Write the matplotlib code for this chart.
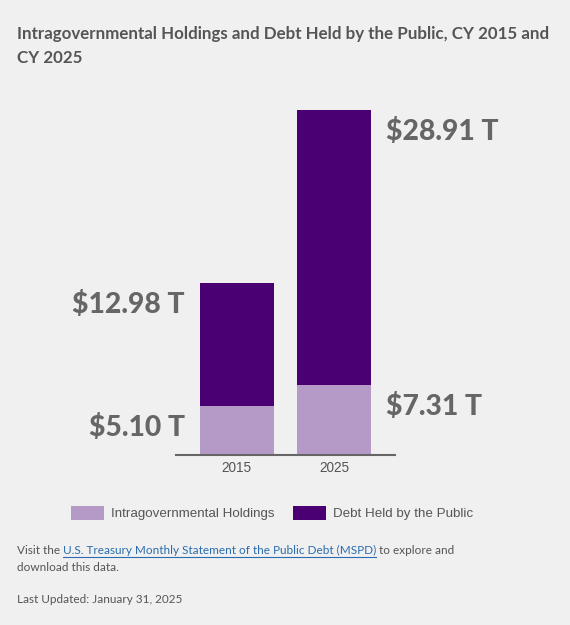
import matplotlib
matplotlib.use("Agg")
import matplotlib.pyplot as plt
from matplotlib.patches import Patch
from matplotlib.lines import Line2D

years = ["2015", "2025"]
intragov = [5.10, 7.31]
public_debt = [12.98, 28.91]
series_names = ["Intragovernmental Holdings", "Debt Held by the Public"]
title_lines = ["Intragovernmental Holdings and Debt Held by the Public, CY 2015 and", "CY 2025"]

LIGHT = "#b59ac8"
DARK = "#4a0072"
BG = "#f0f0f0"
W, H = 570, 625

fig = plt.figure(figsize=(W / 100, H / 100), dpi=100, facecolor=BG)

def fx(px):
    return px / W

def fy(py):
    return 1 - py / H

ax = fig.add_axes([fx(176), fy(455), (395 - 176) / W, 355 / H])
ax.set_facecolor(BG)

x = list(range(len(years)))
bw = 0.757
ax.bar(x, intragov, width=bw, color=LIGHT, linewidth=0)
ax.bar(x, public_debt, bottom=intragov, width=bw, color=DARK, linewidth=0)
ax.set_xlim(-0.626, 1.625)
ax.set_ylim(0, 37.31)
for s in ["top", "left", "right"]:
    ax.spines[s].set_visible(False)
ax.spines["bottom"].set_color("#666666")
ax.spines["bottom"].set_linewidth(1.5)
ax.set_yticks([])
ax.set_xticks(x)
ax.set_xticklabels(years, fontfamily="Liberation Sans", fontsize=9.8, color="#555555")
ax.tick_params(axis="x", length=0, pad=4)

lab_kw = dict(textcoords="offset points", fontfamily="Lato", fontweight="black",
              fontsize=20.3, color="#666666", va="baseline", annotation_clip=False)
off_y = -21.3
for i in range(len(years)):
    tot = intragov[i] + public_debt[i]
    if i == 0:
        xe, dx, ha = x[i] - bw / 2, -11.0, "right"
    else:
        xe, dx, ha = x[i] + bw / 2, 11.0, "left"
    ax.annotate(f"${public_debt[i]:.2f} T", xy=(xe, tot), xytext=(dx, off_y), ha=ha, **lab_kw)
    ax.annotate(f"${intragov[i]:.2f} T", xy=(xe, intragov[i]), xytext=(dx, off_y), ha=ha, **lab_kw)

# Title
fig.text(fx(17), fy(39), title_lines[0], fontfamily="Lato", fontweight="bold", fontsize=12.2,
         color="#555555", va="baseline", ha="left")
fig.text(fx(17), fy(63), title_lines[1], fontfamily="Lato", fontweight="bold", fontsize=12.2,
         color="#555555", va="baseline", ha="left")

# Legend
handles = [Patch(facecolor=LIGHT, edgecolor="none"), Patch(facecolor=DARK, edgecolor="none")]
fig.legend(handles, series_names, loc="center left", bbox_to_anchor=(fx(71), fy(513)),
           bbox_transform=fig.transFigure, ncol=2, frameon=False, borderpad=0, borderaxespad=0,
           handlelength=2.45, handleheight=1.2, handletextpad=0.52, columnspacing=1.4,
           prop={"family": "Liberation Sans", "size": 9.65}, labelcolor="#555555")

# Footer
foot_kw = dict(fontfamily="Lato", fontsize=8.5, va="baseline", ha="left")
t1 = fig.text(fx(17), fy(554), "Visit the", color="#555555", **foot_kw)
t2 = fig.text(0, 0, "U.S. Treasury Monthly Statement of the Public Debt (MSPD)", color="#2a6cae", **foot_kw)
t3 = fig.text(0, 0, " to explore and", color="#555555", **foot_kw)
fig.text(fx(17), fy(571), "download this data.", color="#555555", **foot_kw)
fig.text(fx(17), fy(603), "Last Updated: January 31, 2025", color="#555555", **foot_kw)

fig.canvas.draw()
r = fig.canvas.get_renderer()
bb1 = t1.get_window_extent(r)
t2.set_position(((bb1.x1 + 3) / W, fy(554)))
fig.canvas.draw()
bb2 = t2.get_window_extent(r)
t3.set_position((bb2.x1 / W, fy(554)))
uy = fy(557)
fig.add_artist(Line2D([bb2.x0 / W, bb2.x1 / W], [uy, uy], color="#2a6cae", linewidth=0.8,
                      transform=fig.transFigure))

fig.savefig("out.png", dpi=100, facecolor=BG)
